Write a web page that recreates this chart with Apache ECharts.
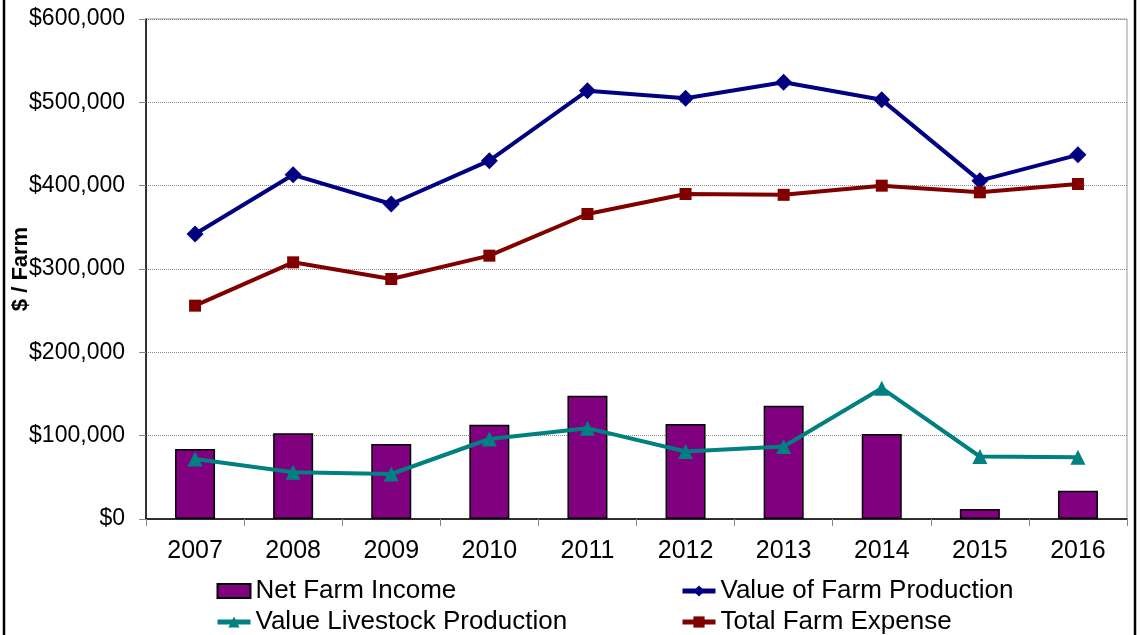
<!DOCTYPE html>
<html>
<head>
<meta charset="utf-8">
<script src="https://cdn.jsdelivr.net/npm/echarts@6/dist/echarts.min.js"></script>
<style>
html,body{margin:0;padding:0;background:#fff;}
#chart{width:1140px;height:635px;}
</style>
</head>
<body>
<div id="chart"></div>
<script>
var years = ['2007','2008','2009','2010','2011','2012','2013','2014','2015','2016'];
var netFarmIncome = [84000, 103000, 90000, 113000, 148000, 114000, 136000, 102000, 12000, 34000];
var valueFarmProduction = [342000, 413000, 378000, 430000, 514000, 505000, 524000, 503000, 406000, 437000];
var valueLivestockProduction = [72000, 56000, 54000, 96000, 109000, 81000, 87000, 157000, 75000, 74000];
var totalFarmExpense = [256000, 308000, 288000, 316000, 366000, 390000, 389000, 400000, 392000, 402000];
var yTicks = {min: 0, max: 600000, interval: 100000};

var FONT = 'Liberation Sans, Arial, sans-serif';
var chart = echarts.init(document.getElementById('chart'));
function fmt(v){ return '$' + v.toString().replace(/\B(?=(\d{3})+(?!\d))/g, ','); }

var legendCommon = {
  orient: 'vertical', top: 578, height: 62, padding: 0, itemGap: 5, itemWidth: 33, itemHeight: 14,
  lineStyle: {width: 5},
  textStyle: {fontFamily: FONT, fontSize: 26, color: '#000', lineHeight: 26}
};

chart.setOption({
  animation: false,
  backgroundColor: '#fff',
  grid: {left: 146, right: 13, top: 19, bottom: 116, containLabel: false, outerBoundsMode: 'none',
         show: true, borderColor: '#999', borderWidth: 1, backgroundColor: 'transparent'},
  xAxis: {
    type: 'category',
    data: years,
    boundaryGap: true,
    axisLine: {lineStyle: {color: '#000', width: 1.5}},
    axisTick: {show: true, length: 7, lineStyle: {color: '#888'}},
    axisLabel: {fontFamily: FONT, fontSize: 25, color: '#000', margin: 20}
  },
  yAxis: {
    type: 'value',
    min: yTicks.min, max: yTicks.max, interval: yTicks.interval,
    name: '$ / Farm',
    nameLocation: 'middle',
    nameGap: 114,
    nameMoveOverlap: false,
    nameTextStyle: {fontFamily: FONT, fontSize: 22, fontWeight: 'bold', color: '#000'},
    axisLine: {show: true, lineStyle: {color: '#000', width: 1.5}},
    axisTick: {show: true, length: 7, lineStyle: {color: '#888'}},
    axisLabel: {fontFamily: FONT, fontSize: 23, color: '#000', margin: 21, formatter: fmt},
    splitLine: {show: true, lineStyle: {color: '#888', type: 'dotted', width: 1}}
  },
  legend: [
    Object.assign({}, legendCommon, {left: 215, data: [{name: 'Net Farm Income', icon: 'rect'}, 'Value Livestock Production']}),
    Object.assign({}, legendCommon, {left: 680, data: ['Value of Farm Production', 'Total Farm Expense']})
  ],
  graphic: [
    {type: 'rect', shape: {x: 4, y: -5, width: 1131, height: 650}, style: {fill: 'none', stroke: '#000', lineWidth: 2.5}, silent: true}
  ],
  series: [
    {
      name: 'Net Farm Income', type: 'bar', data: netFarmIncome, barWidth: 40,
      itemStyle: {color: '#800080', borderColor: '#000', borderWidth: 1.5},
      z: 1
    },
    {
      name: 'Value of Farm Production', type: 'line', data: valueFarmProduction,
      symbol: 'diamond', symbolSize: 17,
      lineStyle: {color: '#000080', width: 4}, itemStyle: {color: '#000080'}, z: 3
    },
    {
      name: 'Value Livestock Production', type: 'line', data: valueLivestockProduction,
      symbol: 'triangle', symbolSize: 15,
      lineStyle: {color: '#008080', width: 4}, itemStyle: {color: '#008080'}, z: 3
    },
    {
      name: 'Total Farm Expense', type: 'line', data: totalFarmExpense,
      symbol: 'rect', symbolSize: 12,
      lineStyle: {color: '#800000', width: 4}, itemStyle: {color: '#800000'}, z: 3
    }
  ]
});
</script>
</body>
</html>
